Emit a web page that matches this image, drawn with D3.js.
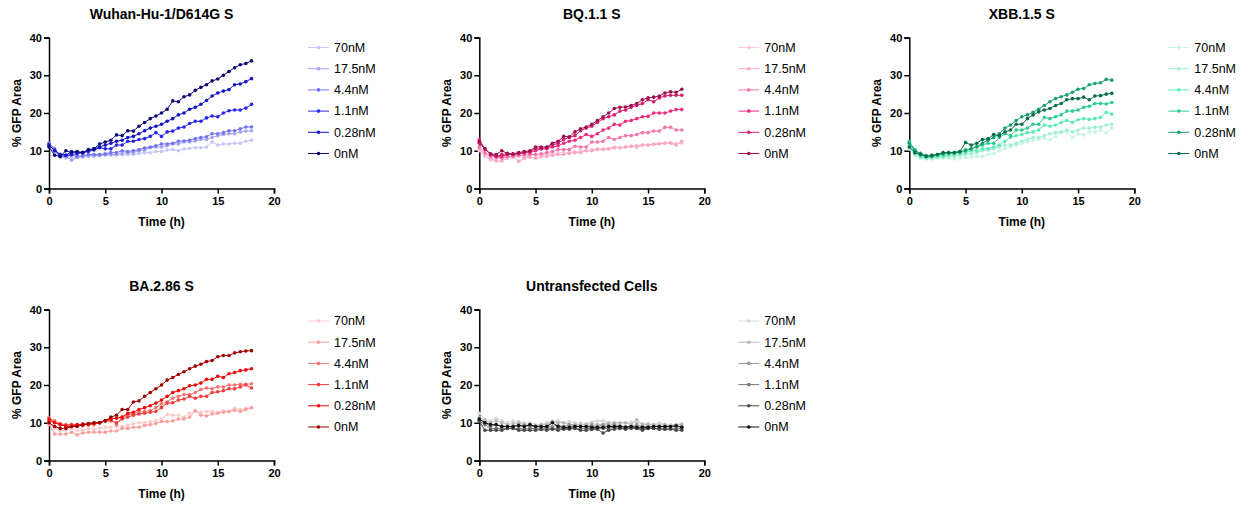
<!DOCTYPE html>
<html>
<head>
<meta charset="utf-8">
<script src="https://cdn.jsdelivr.net/npm/d3@7"></script>
<style>
  body { margin: 0; background: #fff; }
  svg { font-family: "Liberation Sans", Arial, sans-serif; }
  .axis path, .axis line { stroke: #000; stroke-width: 1.5px; }
  .axis text { font-size: 11px; font-weight: bold; fill: #000; }
</style>
</head>
<body>
<div id="chart"></div>
<script>
// time points (h)
var hours = [0, 0.5, 1, 1.5, 2, 2.5, 3, 3.5, 4, 4.5, 5, 5.5, 6, 6.5, 7, 7.5, 8, 8.5, 9,
  9.5, 10, 10.5, 11, 11.5, 12, 12.5, 13, 13.5, 14, 14.5, 15, 15.5, 16, 16.5, 17, 17.5, 18];

var doses = ["70nM", "17.5nM", "4.4nM", "1.1nM", "0.28nM", "0nM"];

// each panel: one series per dose, same order as doses
var wuhanData = [
  [11, 9.5, 8.5, 8, 8, 8.2, 8.3, 8.5, 8.5, 8.6, 8.8, 8.8, 8.8, 8.9, 9, 9, 9.3, 9.5, 9.5, 9.8, 9.8, 10.2, 10.3, 10, 10.5, 10.6, 10.8, 10.8, 11, 12.3, 11.5, 11.8, 11.8, 12, 12, 12.5, 12.8],
  [12, 10, 8.3, 8.5, 7.5, 8.2, 8.5, 8.7, 8.8, 8.8, 9, 9, 9, 9.3, 9.5, 9.5, 10, 10.2, 10.8, 11, 11, 11.3, 11.8, 11.8, 12.3, 12.3, 12.6, 13, 13, 13.5, 14, 14.3, 14.5, 14.5, 15, 15.2, 15.3],
  [12, 10.5, 8.5, 8.6, 8.8, 8.5, 8.7, 9, 9, 9, 9.2, 9.5, 9.5, 10, 9.8, 10, 10.3, 10.7, 11, 11.3, 11.8, 11.8, 12, 12.5, 12.6, 12.8, 13.2, 13.5, 13.7, 14.5, 14.5, 14.8, 15.3, 15.3, 15.8, 16.3, 16.3],
  [11.5, 10.2, 9, 8.8, 9, 9.2, 9.5, 9.8, 10.2, 10.8, 10.5, 10.5, 11.5, 11.5, 12.5, 12.5, 13, 13.2, 13.8, 14.8, 13.8, 15, 15.2, 16, 16.3, 17.2, 17.8, 17.8, 18.7, 19.2, 19, 20, 20.6, 20.8, 20.8, 21.3, 22.3],
  [11.5, 10, 9, 8.8, 9.8, 9.5, 9.5, 10, 10.5, 11, 11.5, 12, 12.5, 12.8, 13.5, 13.8, 14.5, 15.3, 16, 16.5, 17, 17.8, 18.5, 19.5, 20, 21, 21.5, 22.3, 23.3, 24.5, 25.3, 25.8, 26.2, 27.5, 27.7, 28.3, 29.1],
  [11, 8.8, 8.5, 10, 9.5, 9.8, 9.5, 10.3, 10.5, 11.8, 12.3, 12.8, 14.2, 14, 15.3, 15.2, 16.5, 17.5, 18.5, 19.2, 20, 21, 23.2, 23, 24.3, 24.8, 26, 26.8, 27.5, 28.5, 29, 30, 31, 32, 32.8, 33.1, 33.8]
];

var bqData = [
  [10, 8.5, 7.5, 7.8, 8.5, 8.5, 8.3, 8.5, 8.2, 8.8, 8.8, 9, 9, 9.2, 9.5, 9.5, 9.5, 9.8, 10, 10, 10.3, 10.5, 10.5, 10.5, 11, 10.8, 11, 11.2, 10.8, 11.5, 11.5, 11.8, 12, 12, 12.2, 12, 12],
  [10.5, 9, 8, 7.3, 7.3, 8, 8.5, 7.2, 8, 8.3, 8, 8.5, 8.5, 8.8, 9, 9, 9.3, 9.5, 9.5, 10, 10, 10.3, 10.3, 10.5, 10.8, 10.8, 11, 11.2, 11.3, 11.5, 11.5, 11.7, 11.8, 12, 12, 11.5, 12.5],
  [11, 9.5, 8.5, 8.3, 8, 8.5, 8.5, 8.8, 8.8, 9, 9, 9.2, 9.5, 9.8, 10.3, 10.3, 10.3, 11.2, 11, 11, 12.3, 12.3, 12.5, 13.5, 13, 13.5, 14, 14, 14.3, 14.8, 14.8, 15.2, 15.2, 16.2, 16.2, 15.5, 15.5],
  [13, 10.5, 9, 8.5, 8.5, 9, 9, 9.2, 9.5, 9.5, 10, 10.5, 10.5, 11, 11.3, 12, 12.5, 12.8, 13.5, 14.3, 13.8, 14.5, 15.5, 16, 17, 16.8, 17.8, 18, 18.5, 19, 19.1, 20, 20, 20, 20.5, 20.9, 20.9],
  [12, 10.5, 9, 8.5, 9, 9.2, 9, 9.3, 9.5, 9.8, 10.5, 10.5, 10.8, 11.5, 12, 13, 13.5, 14, 15.3, 16, 16.5, 17.5, 18.5, 19, 19.5, 20.5, 20.8, 21.5, 22, 22.5, 23.5, 23, 24, 24.5, 24.7, 24.7, 24.7],
  [12.5, 10.5, 9.2, 9, 10, 9.3, 9.2, 9.5, 9.8, 10, 11, 11, 11, 12, 12.5, 13.8, 13.7, 15, 15.8, 16.3, 17, 18, 19, 20, 21.2, 21.5, 21.6, 22, 22.5, 23.5, 24, 24.2, 24.5, 25.3, 25.6, 25.5, 26.3]
];

var xbbData = [
  [10.5, 8.8, 8, 7.8, 7.8, 8, 8, 8, 7.8, 8, 8.2, 8.3, 8.5, 8.5, 9, 9.3, 10, 10.5, 11, 11.5, 12, 12.3, 12.8, 13, 13.3, 13, 13.8, 14.8, 15, 13.5, 14.5, 14.2, 15, 15, 15.5, 14.8, 16],
  [11, 9, 8.3, 8, 8.2, 8.3, 8.5, 8.5, 8.5, 8.8, 9, 9.2, 9.5, 10, 10.2, 10.5, 11, 11.5, 11.5, 12, 12.5, 13, 13.5, 13.5, 14, 14.5, 14.8, 15, 15.5, 15, 15.5, 16, 16, 16.2, 16.3, 16.8, 17],
  [11.5, 9.5, 8.5, 8.2, 8.3, 8.5, 8.5, 8.8, 9, 9.3, 9.5, 10, 10, 10.5, 10.5, 11, 11.5, 12.5, 13.5, 14, 14.3, 14.8, 15, 15.5, 16.8, 16.5, 16.8, 17.5, 18, 17.5, 18.2, 18.5, 18.3, 18.5, 18.8, 20.2, 19.7],
  [12.5, 10.3, 9, 8.5, 8.8, 8.8, 9, 9.3, 9.5, 9.5, 10.3, 10.5, 11.2, 11.5, 12, 12, 13.5, 14.5, 14, 15.5, 15.5, 16, 17, 17, 18.8, 18.5, 19, 19.5, 20.5, 20.5, 20.8, 21.5, 21.8, 22.5, 22.5, 22.4, 22.8],
  [12, 10, 9.3, 8.7, 8.5, 9, 9.3, 9.5, 9.5, 9.8, 10, 10.5, 11, 12, 12.8, 13.5, 14.5, 16, 16.8, 18, 19, 19.5, 20.2, 21, 22, 23, 23.8, 24.3, 24.8, 25.5, 26.3, 26.5, 27.5, 27.8, 28, 28.9, 28.7],
  [11, 9.5, 9, 8.5, 8.8, 9, 9.5, 9.5, 9.5, 9.8, 12.2, 11.5, 12, 13, 13.2, 14.3, 14, 15, 15.5, 17, 17, 18.5, 19.5, 20.3, 20.8, 21.2, 22, 22.5, 23.5, 23.8, 23.8, 24.2, 23.5, 24.5, 24.6, 25, 25.2]
];

var baData = [
  [10, 8.5, 8, 8, 8.5, 8, 8, 8.5, 8.3, 8.5, 8.8, 8.8, 9, 9, 9.3, 9.8, 10, 10, 10.3, 10.5, 11, 12.2, 12, 12, 11.5, 12.5, 13, 12.8, 13, 13, 12.8, 13.2, 13, 13.8, 13.5, 13.8, 14],
  [9.5, 7, 7, 7, 7.5, 6.8, 7.3, 7.5, 7.5, 7.5, 7.5, 7.8, 7.8, 8.5, 8.5, 8.8, 8.8, 9.3, 9.5, 9.8, 10.3, 10.3, 10.5, 11, 11, 11.5, 13.2, 12, 11.8, 12.3, 12.5, 12.8, 13, 13.3, 13, 13.5, 14],
  [11.3, 10.5, 9.8, 9.5, 9.5, 9.2, 9.8, 9.5, 9.5, 10, 10.5, 11, 9.5, 11.5, 12, 12.5, 12.8, 13, 13.2, 14, 15, 15.5, 16.5, 17, 17.5, 17.5, 18, 18.8, 19.2, 19, 19.5, 19.5, 20, 20, 20.2, 20.2, 20.3],
  [10.5, 10, 9.5, 9.3, 9.5, 9.5, 9.2, 9.8, 10, 10, 10.5, 10.5, 10, 11, 11.5, 12, 12.3, 12.5, 12.8, 13, 14, 15.2, 15.3, 16, 16.3, 17, 16.5, 17, 17, 18, 18.2, 18.5, 19, 19, 19.5, 20, 19.2],
  [11, 10, 9.5, 9, 9, 9.5, 9.5, 9.5, 9.8, 10, 10.5, 11, 11.2, 11.5, 12.5, 12.8, 13.5, 14, 14.5, 15.2, 16, 17, 18, 18.5, 19, 19.8, 20, 20.5, 21.5, 21.5, 22.3, 22, 23, 23.3, 23.8, 24, 24.3],
  [10, 9, 8.5, 8.5, 9, 9, 9.5, 9.8, 10, 10, 10.5, 11.5, 12, 13.5, 13.5, 15.5, 15.8, 17, 18, 19, 20, 21.3, 22, 22.8, 23.5, 24.3, 25, 25.5, 26.2, 26.5, 27.5, 27.8, 27.8, 28.5, 28.8, 29, 29.1]
];

var untransData = [
  [12.5, 11, 10.5, 11.2, 10.5, 10, 10.5, 10.3, 10, 10, 9.5, 9.5, 10, 10.5, 10.5, 10, 10.3, 10, 10, 9.8, 10.2, 10.5, 10.5, 10, 10, 9.8, 10, 10.2, 10, 9.8, 9.8, 9.5, 10, 9.5, 9.5, 9.5, 9.8],
  [11.5, 10.5, 10, 10.5, 10, 9.5, 9.8, 10, 9.5, 9.3, 9.2, 9.5, 9.5, 10.3, 10, 10, 9.5, 9.5, 9.5, 9.5, 9.8, 9.5, 9.5, 10, 10, 10, 10, 9.5, 10.8, 9.5, 9.5, 9.5, 9.3, 9.5, 9, 9.5, 9.5],
  [11, 10, 9, 9.5, 9.2, 9, 9, 9.3, 9.3, 9, 9, 8.8, 8.8, 9, 9.3, 9, 9.5, 9.2, 9, 9, 9.3, 9, 9.5, 9.3, 9.5, 9.2, 9, 9, 9.5, 9, 9, 9, 9, 8.8, 9, 9, 9],
  [10.5, 9.5, 8.5, 8.5, 8.5, 8.5, 8.5, 8.5, 8.3, 8.5, 8.5, 8.3, 8.5, 8.5, 8.5, 8.5, 8.5, 8.5, 8.5, 8.5, 8.5, 8.5, 8.5, 8.5, 8.8, 8.5, 8.5, 8.8, 8.5, 8.5, 8.5, 8.5, 8.5, 8.3, 8.5, 8.5, 8.5],
  [10.5, 8, 8, 8, 8, 8.5, 8.5, 8, 8, 8, 8, 8.2, 8, 8.3, 8, 8.3, 8.3, 8.5, 8, 8, 8.2, 8.3, 7.3, 8, 8.3, 8.5, 8.3, 8.5, 8.5, 8, 8.5, 8.5, 8.3, 8.3, 8.3, 8, 8],
  [11, 10, 9.5, 9.5, 9, 9, 9, 9.3, 9, 9.5, 9, 9, 9, 10, 9, 8.8, 8.8, 9, 9, 9, 8.8, 8.8, 8.8, 9, 9, 9, 8.8, 9, 8.8, 8.8, 8.8, 9, 9, 9, 9, 9.2, 8.8]
];

var blues = ["#c6c6f7", "#a4a4f3", "#7474ef", "#2626f0", "#1515c8", "#0c0c78"];
var pinks = ["#fbc6da", "#f8a6c6", "#f176aa", "#f0287e", "#d61a72", "#9e0f4e"];
var greens = ["#c6f3e2", "#a2efd4", "#5eeab6", "#2ccc8e", "#17a06e", "#0a6c48"];
var reds = ["#fccccc", "#fb9e9e", "#f77474", "#f03c3c", "#f00a0a", "#a00000"];
var grays = ["#d8d8d8", "#b8b8b8", "#989898", "#767676", "#484848", "#111111"];

var panels = [
  { title: "Wuhan-Hu-1/D614G S", data: wuhanData, colors: blues, x: 49, y: 37.5 },
  { title: "BQ.1.1 S", data: bqData, colors: pinks, x: 479.3, y: 37.5 },
  { title: "XBB.1.5 S", data: xbbData, colors: greens, x: 909.3, y: 37.5 },
  { title: "BA.2.86 S", data: baData, colors: reds, x: 49, y: 309.5 },
  { title: "Untransfected Cells", data: untransData, colors: grays, x: 479.3, y: 309.5 }
];

var svgWidth = 1245;
var svgHeight = 506;
var plotW = 225;
var plotH = 151;

var svg = d3.select("#chart")
  .append("svg")
  .attr("width", svgWidth)
  .attr("height", svgHeight);

var xScale = d3.scaleLinear().domain([0, 20]).range([0, plotW]);
var yScale = d3.scaleLinear().domain([0, 40]).range([plotH, 0]);

panels.forEach(function(p) {
  var g = svg.append("g")
    .attr("transform", `translate(${p.x}, ${p.y})`);

  // title
  g.append("text")
    .attr("x", plotW / 2)
    .attr("y", -19)
    .attr("text-anchor", "middle")
    .style("font-size", "14px")
    .style("font-weight", "bold")
    .text(p.title);

  // axes
  g.append("g")
    .attr("class", "axis")
    .attr("transform", `translate(0, ${plotH})`)
    .call(d3.axisBottom(xScale).tickValues([0, 5, 10, 15, 20]).tickSize(5).tickPadding(4));

  g.append("g")
    .attr("class", "axis")
    .call(d3.axisLeft(yScale).tickValues([0, 10, 20, 30, 40]).tickSize(5).tickPadding(2));

  // axis labels
  g.append("text")
    .attr("x", plotW / 2)
    .attr("y", plotH + 37)
    .attr("text-anchor", "middle")
    .style("font-size", "12px")
    .style("font-weight", "bold")
    .text("Time (h)");

  g.append("text")
    .attr("transform", "rotate(-90)")
    .attr("x", -plotH / 2)
    .attr("y", -28)
    .attr("text-anchor", "middle")
    .style("font-size", "12px")
    .style("font-weight", "bold")
    .text("% GFP Area");

  var line = d3.line()
    .x((d, i) => xScale(hours[i]))
    .y(d => yScale(d));

  // series, lightest first so darker ones sit on top
  p.data.forEach(function(series, k) {
    var col = p.colors[k];
    g.append("path")
      .datum(series)
      .attr("fill", "none")
      .attr("stroke", col)
      .attr("stroke-width", 1)
      .attr("d", line);

    g.selectAll(null)
      .data(series)
      .enter()
      .append("circle")
      .attr("cx", (d, i) => xScale(hours[i]))
      .attr("cy", d => yScale(d))
      .attr("r", 1.8)
      .attr("fill", col);
  });

  // legend
  var leg = g.append("g")
    .attr("transform", `translate(259, ${p.y < 100 ? 10 : 11.5})`);

  doses.forEach(function(name, k) {
    var row = leg.append("g").attr("transform", `translate(0, ${k * 21.2})`);
    row.append("line")
      .attr("x1", 0).attr("x2", 21)
      .attr("stroke", p.colors[k])
      .attr("stroke-width", 1);
    row.append("circle")
      .attr("cx", 10.5).attr("r", 1.8)
      .attr("fill", p.colors[k]);
    row.append("text")
      .attr("x", 26)
      .attr("dy", "0.35em")
      .style("font-size", "12.5px")
      .text(name);
  });
});
</script>
</body>
</html>
